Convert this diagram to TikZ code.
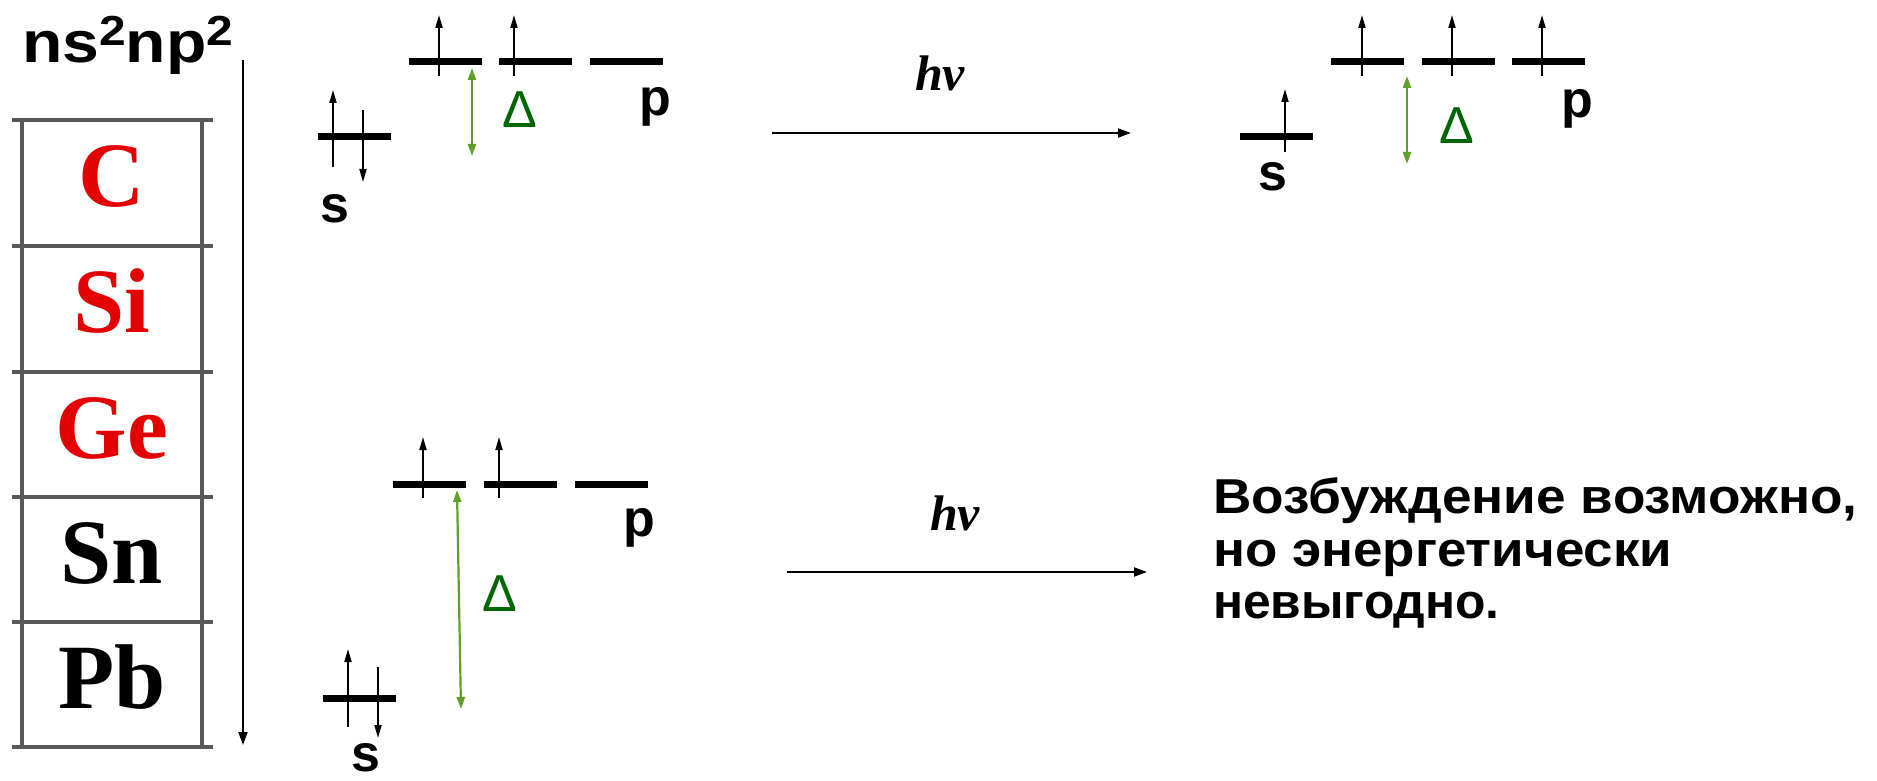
\documentclass[tikz,border=0pt]{standalone}
\usepackage{fontspec}
\setmainfont{Liberation Sans}
\newfontfamily\serifb{Liberation Serif}
\usetikzlibrary{arrows.meta,calc}

\definecolor{elred}{RGB}{226,0,0}
\definecolor{gapgreen}{RGB}{96,160,40}
\definecolor{dgreen}{RGB}{0,102,0}

\tikzset{
  lvl/.style={fill=black, draw=none, inner sep=0pt, minimum width=73pt, minimum height=7pt},
  spin/.style={line width=1.8pt, -{Triangle[length=13pt,width=7pt]}},
  gap/.style={draw=gapgreen, line width=2.2pt,
    {Triangle[length=12pt,width=8pt]}-{Triangle[length=12pt,width=8pt]}},
  photon/.style={line width=2pt, -{Triangle[length=13pt,width=9pt]}},
  lab/.style={font=\bfseries\fontsize{52}{52}\selectfont, inner sep=0pt, anchor=base},
  dlt/.style={font=\fontsize{52}{52}\selectfont, text=dgreen, inner sep=0pt},
  elem/.style={font=\serifb\bfseries\fontsize{92}{92}\selectfont, inner sep=0pt, anchor=base},
  hvlab/.style={font=\serifb\bfseries\itshape\fontsize{50}{50}\selectfont, inner sep=0pt, anchor=base},
  note/.style={font=\bfseries\fontsize{49}{53}\selectfont, inner sep=0pt, anchor=base west},
  gridline/.style={draw=black!65, line width=4.5pt}
}

\newcommand{\supdigit}[1]{\raisebox{17pt}{\fontsize{42}{42}\selectfont #1}}

\begin{document}
\begin{tikzpicture}[x=1pt, y=-1pt]
\useasboundingbox (0,0) rectangle (1877,781);

% ---- configuration label and trend arrow ----
\node[lab, anchor=base west, font=\bfseries\fontsize{58}{58}\selectfont] (cfg) at (22,63)
  {\scalebox{1.14}[1]{ns\supdigit{2}np\supdigit{2}}};
\coordinate (trendtop) at (243,60);
\coordinate (trendbot) at (243,745);
\draw[photon] (trendtop) -- (trendbot);

% ---- group 14 column ----
\foreach \yy in {120,246,372,497,622,747}
  \draw[gridline] (12,\yy) -- (213,\yy);
\draw[gridline] (22,120) -- (22,747);
\draw[gridline] (202,120) -- (202,747);
\node[elem, text=elred] (eC)  at (112,206) {C};
\node[elem, text=elred] (eSi) at (112,332) {Si};
\node[elem, text=elred] (eGe) at (112,458) {Ge};
\node[elem]             (eSn) at (112,583) {Sn};
\node[elem]             (ePb) at (112,708) {Pb};

% ---- ground state, upper row ----
\node[lvl] (sA)  at (354,137) {};
\node[lvl] (pA1) at (445,62) {};
\node[lvl] (pA2) at (535.5,62) {};
\node[lvl] (pA3) at (626.5,62) {};
\draw[spin] (333,167) -- (333,90);
\draw[spin] (363,110) -- (363,182);
\draw[spin] (439,76) -- (439,15);
\draw[spin] (514,76) -- (514,15);
\coordinate (gA1) at (472,68);
\coordinate (gA2) at (472,156);
\draw[gap] (gA1) -- (gA2);
\node[dlt] (dA) at (520,110) {Δ};
\node[lab] (sAl) at (335,222) {s};
\node[lab] (pAl) at (655,116) {p};

% ---- excitation arrow, upper row ----
\coordinate (hA1) at (772,133);
\coordinate (hA2) at (1131,133);
\draw[photon] (hA1) -- (hA2);
\node[hvlab] (hvA) at (940,91) {hv};

% ---- excited state, upper row ----
\node[lvl] (sB)  at (1276.5,137) {};
\node[lvl] (pB1) at (1367,62) {};
\node[lvl] (pB2) at (1458,62) {};
\node[lvl] (pB3) at (1548.5,62) {};
\draw[spin] (1285,152) -- (1285,89);
\draw[spin] (1362,76) -- (1362,15);
\draw[spin] (1452,76) -- (1452,15);
\draw[spin] (1542,76) -- (1542,15);
\coordinate (gB1) at (1407,76);
\coordinate (gB2) at (1407,164);
\draw[gap] (gB1) -- (gB2);
\node[dlt] (dB) at (1457,126) {Δ};
\node[lab] (sBl) at (1273,190) {s};
\node[lab] (pBl) at (1577,118) {p};

% ---- ground state, lower row ----
\node[lvl] (sC)  at (359.5,698) {};
\node[lvl] (pC1) at (429.5,484) {};
\node[lvl] (pC2) at (520.5,484) {};
\node[lvl] (pC3) at (611,484) {};
\draw[spin] (348,727) -- (348,649);
\draw[spin] (378,667) -- (378,738);
\draw[spin] (423,498) -- (423,437);
\draw[spin] (499,498) -- (499,437);
\coordinate (gC1) at (457,490);
\coordinate (gC2) at (461,709);
\draw[gap] (gC1) -- (gC2);
\node[dlt] (dC) at (500,594) {Δ};
\node[lab] (sCl) at (366,771) {s};
\node[lab] (pCl) at (639.5,536) {p};

% ---- excitation arrow, lower row ----
\coordinate (hC1) at (787,572);
\coordinate (hC2) at (1147,572);
\draw[photon] (hC1) -- (hC2);
\node[hvlab] (hvC) at (955,530) {hv};

% ---- comment ----
\node[note] (n1) at (1213,513) {\scalebox{1.085}[1]{Возбуждение возможно,}};
\node[note] (n2) at (1213,566) {\scalebox{1.08}[1]{но энергетически}};
\node[note] (n3) at (1213,618) {\scalebox{1.015}[1]{невыгодно.}};
\end{tikzpicture}
\end{document}
